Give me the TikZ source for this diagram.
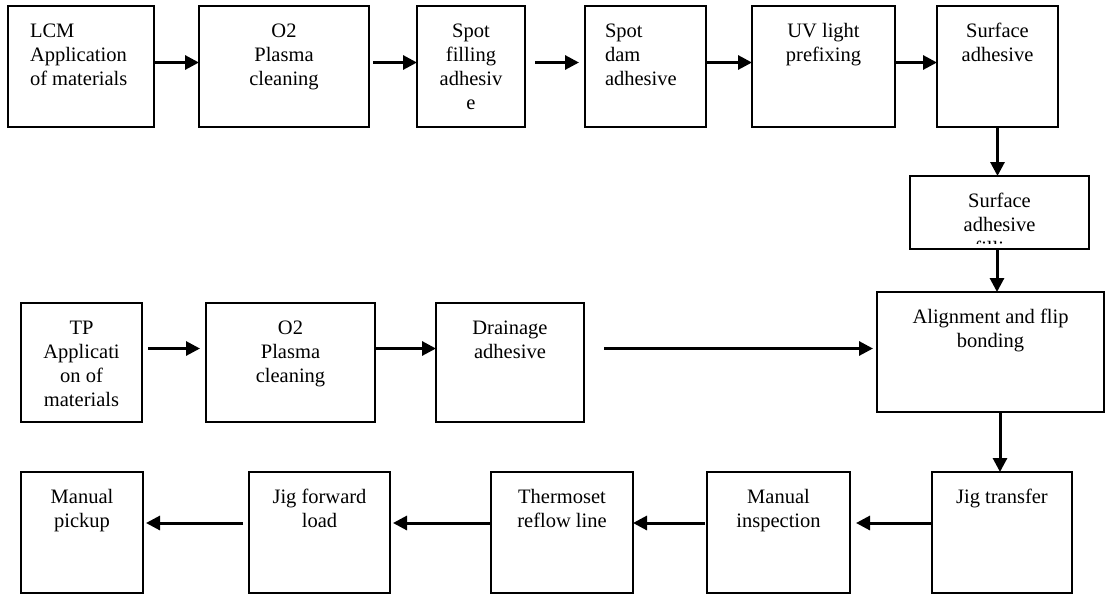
\documentclass[tikz,border=0pt]{standalone}
\usepackage{fontspec}
\setmainfont{Liberation Serif}
\usetikzlibrary{arrows.meta}

% top-aligned text block of a stage box: width, height, lines
\newcommand\stagetext[3]{\parbox[b][#2pt][t]{#1pt}{\centering\rule{0pt}{31pt}#3}}
% same, left aligned with an indent: width, height, indent, lines
\newcommand\stageleft[4]{\parbox[b][#2pt][t]{#1pt}{\raggedright\leftskip=#3pt\relax\rule{0pt}{31pt}#4}}

\tikzset{
  stagefont/.style={font=\fontsize{20.5}{24.3}\selectfont},
  stagebox/.style={stagefont, draw=black, line width=2pt, rectangle,
    inner sep=0pt, outer sep=0pt, anchor=north west},
  flow/.style={-{Triangle[length=14pt,width=14pt]}, line width=3pt, draw=black},
}

\begin{document}
\begin{tikzpicture}[x=1pt,y=-1pt]
\useasboundingbox (0,0) rectangle (1106,595);
\fill[white] (0,0) rectangle (1106,595);

% LCM line
\node[stagebox] (lcm)      at (8,6)   {\stageleft{146}{121}{22}{LCM\\Application\\of materials}};
\node[stagebox] (o2a)      at (199,6) {\stagetext{170}{121}{O2\\Plasma\\cleaning}};
\node[stagebox] (spotfill) at (417,6) {\stagetext{108}{121}{Spot\\filling\\adhesiv\\e}};
\node[stagebox] (spotdam)  at (585,6) {\stageleft{121}{121}{20}{Spot\\dam\\adhesive}};
\node[stagebox] (uv)       at (752,6) {\stagetext{143}{121}{UV light\\prefixing}};
\node[stagebox] (surf)     at (937,6) {\stagetext{121}{121}{Surface\\adhesive}};
\node[stagebox] (surf2)    at (910,176) {\stagetext{179}{73}{Surface\\adhesive}};
\begin{scope}
  \clip ([xshift=2pt]surf2.north west) rectangle ([xshift=-2pt,yshift=6pt]surf2.south east);
  \node[stagefont, anchor=base, inner sep=0pt] (surf2tail) at ([yshift=-79.6pt]surf2.north) {filling};
\end{scope}

% bonding
\node[stagebox] (align)    at (877,292) {\stagetext{227}{120}{Alignment and flip\\bonding}};

% TP line
\node[stagebox] (tp)       at (21,303)  {\stagetext{121}{119}{TP\\Applicati\\on of\\materials}};
\node[stagebox] (o2b)      at (206,303) {\stagetext{169}{119}{O2\\Plasma\\cleaning}};
\node[stagebox] (drain)    at (436,303) {\stagetext{148}{119}{Drainage\\adhesive}};

% final line
\node[stagebox] (jig)      at (932,472) {\stagetext{140}{121}{Jig transfer}};
\node[stagebox] (insp)     at (707,472) {\stagetext{143}{121}{Manual\\inspection}};
\node[stagebox] (thermo)   at (491,472) {\stagetext{142}{121}{Thermoset\\reflow line}};
\node[stagebox] (jigf)     at (249,472) {\stagetext{141}{121}{Jig forward\\load}};
\node[stagebox] (pick)     at (21,472)  {\stagetext{122}{121}{Manual\\pickup}};

% connectors, LCM line
\draw[flow] ([yshift=4pt]lcm.east) -- ([yshift=4pt]o2a.west);
\draw[flow, shorten <=4pt] ([yshift=4pt]o2a.east) -- ([yshift=4pt]spotfill.west);
\draw[flow, shorten <=10pt, shorten >=6pt] ([yshift=4pt]spotfill.east) -- ([yshift=4pt]spotdam.west);
\draw[flow] ([yshift=4pt]spotdam.east) -- ([yshift=4pt]uv.west);
\draw[flow] ([yshift=4pt]uv.east) -- ([yshift=4pt]surf.west);
\draw[flow] (surf.south) -- (surf.south |- surf2.north);
\draw[flow] ([xshift=-2.5pt]surf2.south) -- ([xshift=-2.5pt]surf2.south |- align.north);

% connectors, TP line
\draw[flow, shorten <=6pt, shorten >=6pt] ([yshift=14pt]tp.east) -- ([yshift=14pt]o2b.west);
\draw[flow] ([yshift=14pt]o2b.east) -- ([yshift=14pt]drain.west);
\draw[flow, shorten <=20pt, shorten >=4pt] ([yshift=14pt]drain.east) -- ([yshift=14pt]drain.east -| align.west);

% connectors, final line
\draw[flow] ([xshift=-2pt]jig.north |- align.south) -- ([xshift=-2pt]jig.north);
\draw[flow, shorten >=6pt] ([yshift=9.5pt]jig.west) -- ([yshift=9.5pt]insp.east);
\draw[flow, shorten <=2pt] ([yshift=9.5pt]insp.west) -- ([yshift=9.5pt]thermo.east);
\draw[flow, shorten >=3pt] ([yshift=9.5pt]thermo.west) -- ([yshift=9.5pt]jigf.east);
\draw[flow, shorten <=6pt, shorten >=3pt] ([yshift=9.5pt]jigf.west) -- ([yshift=9.5pt]pick.east);
\end{tikzpicture}
\end{document}
